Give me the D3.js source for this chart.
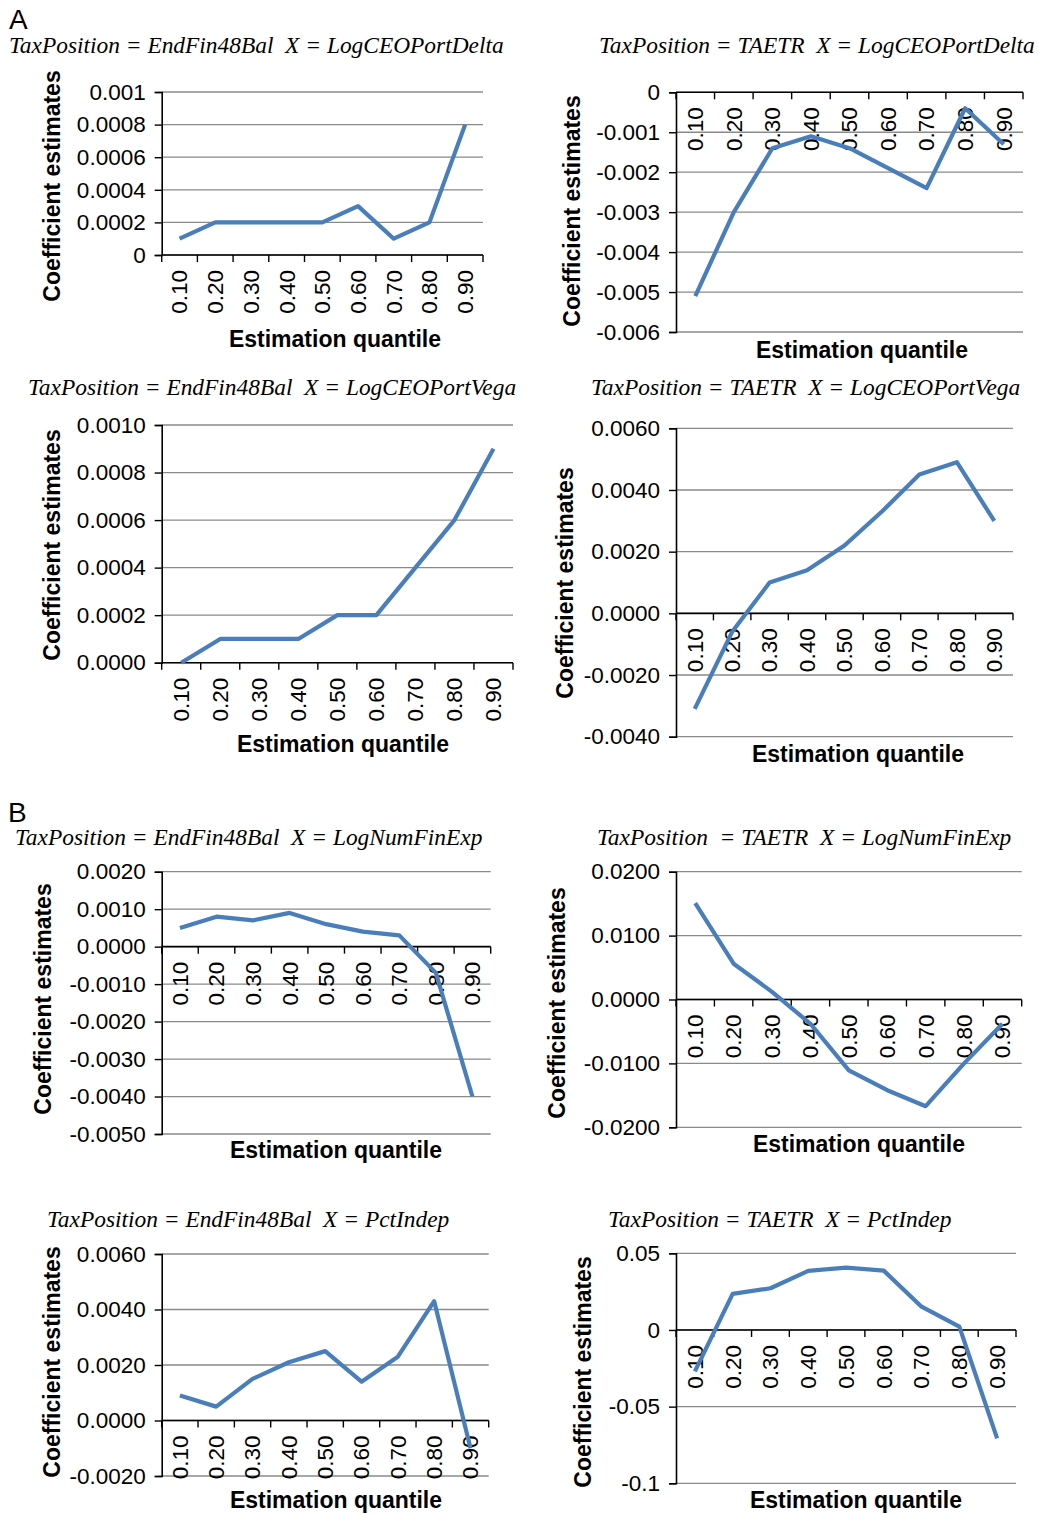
<!DOCTYPE html>
<html>
<head>
<meta charset="utf-8">
<script src="https://cdn.jsdelivr.net/npm/d3@7"></script>
<style>
  body { margin: 0; background: #fff; }
  svg { display: block; }
  .tick-label { font-family: "Liberation Sans", Arial, sans-serif; font-size: 22.5px; fill: #000; }
  .axis-title { font-family: "Liberation Sans", Arial, sans-serif; font-size: 23px; font-weight: bold; fill: #000; }
  .panel-title { font-family: "Liberation Serif", "Times New Roman", serif; font-style: italic; font-size: 23.4px; fill: #000; white-space: pre; }
  .letter { font-family: "Liberation Sans", Arial, sans-serif; font-size: 28px; fill: #000; }
</style>
</head>
<body>
<svg id="chart" width="1039" height="1514"></svg>
<script>
// Categories (estimation quantiles)
const quantiles = ["0.10", "0.20", "0.30", "0.40", "0.50", "0.60", "0.70", "0.80", "0.90"];

// Coefficient estimates
const fin48Delta = [0.0001, 0.0002, 0.0002, 0.0002, 0.0002, 0.0003, 0.0001, 0.0002, 0.0008];
const taetrDelta = [-0.0051, -0.0030, -0.0014, -0.0011, -0.0014, -0.0019, -0.0024, -0.0004, -0.0013];
const fin48Vega = [0.0000, 0.0001, 0.0001, 0.0001, 0.0002, 0.0002, 0.0004, 0.0006, 0.0009];
const taetrVega = [-0.0031, -0.0006, 0.0010, 0.0014, 0.0022, 0.0033, 0.0045, 0.0049, 0.0030];
const fin48FinExp = [0.0005, 0.0008, 0.0007, 0.0009, 0.0006, 0.0004, 0.0003, -0.0007, -0.0040];
const taetrFinExp = [0.0151, 0.0056, 0.0012, -0.0038, -0.0111, -0.0142, -0.0167, -0.0100, -0.0038];
const fin48Indep = [0.0009, 0.0005, 0.0015, 0.0021, 0.0025, 0.0014, 0.0023, 0.0043, -0.0010];
const taetrIndep = [-0.027, 0.0235, 0.0272, 0.0385, 0.0407, 0.0387, 0.0152, 0.0022, -0.0707];

// Y tick values and their labels
const ticksFin48Delta = [0, 0.0002, 0.0004, 0.0006, 0.0008, 0.001];
const labelsFin48Delta = ["0", "0.0002", "0.0004", "0.0006", "0.0008", "0.001"];
const ticksTaetrDelta = [-0.006, -0.005, -0.004, -0.003, -0.002, -0.001, 0];
const labelsTaetrDelta = ["-0.006", "-0.005", "-0.004", "-0.003", "-0.002", "-0.001", "0"];
const ticksFin48Vega = [0, 0.0002, 0.0004, 0.0006, 0.0008, 0.001];
const labelsFin48Vega = ["0.0000", "0.0002", "0.0004", "0.0006", "0.0008", "0.0010"];
const ticksTaetrVega = [-0.004, -0.002, 0, 0.002, 0.004, 0.006];
const labelsTaetrVega = ["-0.0040", "-0.0020", "0.0000", "0.0020", "0.0040", "0.0060"];
const ticksFin48FinExp = [-0.005, -0.004, -0.003, -0.002, -0.001, 0, 0.001, 0.002];
const labelsFin48FinExp = ["-0.0050", "-0.0040", "-0.0030", "-0.0020", "-0.0010", "0.0000", "0.0010", "0.0020"];
const ticksTaetrFinExp = [-0.02, -0.01, 0, 0.01, 0.02];
const labelsTaetrFinExp = ["-0.0200", "-0.0100", "0.0000", "0.0100", "0.0200"];
const ticksFin48Indep = [-0.002, 0, 0.002, 0.004, 0.006];
const labelsFin48Indep = ["-0.0020", "0.0000", "0.0020", "0.0040", "0.0060"];
const ticksTaetrIndep = [-0.1, -0.05, 0, 0.05];
const labelsTaetrIndep = ["-0.1", "-0.05", "0", "0.05"];

// Panel titles
const titles = [
    "TaxPosition = EndFin48Bal  X = LogCEOPortDelta",
    "TaxPosition = TAETR  X = LogCEOPortDelta",
    "TaxPosition = EndFin48Bal  X = LogCEOPortVega",
    "TaxPosition = TAETR  X = LogCEOPortVega",
    "TaxPosition = EndFin48Bal  X = LogNumFinExp",
    "TaxPosition  = TAETR  X = LogNumFinExp",
    "TaxPosition = EndFin48Bal  X = PctIndep",
    "TaxPosition = TAETR  X = PctIndep"
];

const lineColor = "#4a7ebb";

// Layout of each panel: plot box, title spot, axis title spots
const panels = [
    { values: fin48Delta, ticks: ticksFin48Delta, labels: labelsFin48Delta, box: [161.7, 483, 92, 255], title: [9, 53], yTitle: [52, 186], xTitle: [335, 346.5] },
    { values: taetrDelta, ticks: ticksTaetrDelta, labels: labelsTaetrDelta, box: [676, 1023, 92.3, 332], title: [599, 53], yTitle: [572, 211], xTitle: [862, 358] },
    { values: fin48Vega, ticks: ticksFin48Vega, labels: labelsFin48Vega, box: [161.7, 513, 425, 662.7], title: [28, 395], yTitle: [52, 545], xTitle: [343, 751.5] },
    { values: taetrVega, ticks: ticksTaetrVega, labels: labelsTaetrVega, box: [676, 1013, 428.3, 736.7], title: [591, 395], yTitle: [565, 583], xTitle: [858, 761.5] },
    { values: fin48FinExp, ticks: ticksFin48FinExp, labels: labelsFin48FinExp, box: [161.7, 490.7, 871.7, 1134], title: [15, 845], yTitle: [43, 999], xTitle: [336, 1158] },
    { values: taetrFinExp, ticks: ticksTaetrFinExp, labels: labelsTaetrFinExp, box: [676, 1021.7, 871.7, 1127.3], title: [597, 845], yTitle: [557, 1003], xTitle: [859, 1151.5] },
    { values: fin48Indep, ticks: ticksFin48Indep, labels: labelsFin48Indep, box: [161.7, 488.7, 1254, 1476], title: [47, 1227], yTitle: [52, 1362], xTitle: [336, 1508] },
    { values: taetrIndep, ticks: ticksTaetrIndep, labels: labelsTaetrIndep, box: [676, 1016, 1253.3, 1483.3], title: [608, 1227], yTitle: [583, 1372], xTitle: [856, 1508] }
];

const svg = d3.select("#chart");
svg.append("rect").attr("width", 1039).attr("height", 1514).attr("fill", "#fff");

// Section letters
svg.append("text").attr("class", "letter").attr("x", 9).attr("y", 29).text("A");
svg.append("text").attr("class", "letter").attr("x", 8).attr("y", 822).text("B");

panels.forEach((p, k) => {
    const [left, right, top, bottom] = p.box;
    const g = svg.append("g");

    const x = d3.scaleBand().domain(quantiles).range([left, right]).padding(0);
    const y = d3.scaleLinear().domain(d3.extent(p.ticks)).range([bottom, top]);

    // Gridlines
    g.selectAll(".grid")
        .data(p.ticks)
        .enter()
        .append("line")
        .attr("x1", left)
        .attr("x2", right)
        .attr("y1", d => y(d))
        .attr("y2", d => y(d))
        .attr("stroke", "#8a8a8a")
        .attr("stroke-width", 1.3);

    // Y axis
    const yAxis = g.append("g")
        .attr("transform", `translate(${left},0)`)
        .call(d3.axisLeft(y).tickValues(p.ticks).tickSize(7).tickPadding(9)
            .tickFormat((d, i) => p.labels[i]));
    yAxis.select(".domain").attr("stroke", "#000").attr("stroke-width", 1.6);
    yAxis.selectAll(".tick line").attr("stroke", "#000").attr("stroke-width", 1.4);
    yAxis.selectAll(".tick text")
        .attr("class", "tick-label")
        .attr("font-family", null).attr("font-size", null);
    yAxis.attr("font-family", null).attr("font-size", null);

    // Category axis sits on the zero line
    const y0 = y(0);
    g.append("line")
        .attr("x1", left).attr("x2", right)
        .attr("y1", y0).attr("y2", y0)
        .attr("stroke", "#000").attr("stroke-width", 1.6);

    // Tick marks at the category boundaries
    const bounds = d3.range(quantiles.length + 1).map(i => left + i * x.step());
    g.selectAll(".xtick")
        .data(bounds)
        .enter()
        .append("line")
        .attr("x1", d => d).attr("x2", d => d)
        .attr("y1", y0).attr("y2", y0 + 7)
        .attr("stroke", "#000").attr("stroke-width", 1.4);

    // Rotated category labels
    g.selectAll(".xlabel")
        .data(quantiles)
        .enter()
        .append("text")
        .attr("class", "tick-label")
        .attr("text-anchor", "end")
        .attr("dy", "0.35em")
        .attr("transform", d => `translate(${x(d) + x.bandwidth() / 2},${y0 + 15}) rotate(-90)`)
        .text(d => d);

    // Series line
    const line = d3.line()
        .x((d, i) => x(quantiles[i]) + x.bandwidth() / 2)
        .y(d => y(d));

    g.append("path")
        .datum(p.values)
        .attr("d", line)
        .attr("fill", "none")
        .attr("stroke", lineColor)
        .attr("stroke-width", 4.2)
        .attr("stroke-linejoin", "round");

    // Titles
    g.append("text")
        .attr("class", "panel-title")
        .attr("x", p.title[0])
        .attr("y", p.title[1])
        .text(titles[k]);

    g.append("text")
        .attr("class", "axis-title")
        .attr("text-anchor", "middle")
        .attr("dy", "0.35em")
        .attr("transform", `translate(${p.yTitle[0]},${p.yTitle[1]}) rotate(-90)`)
        .text("Coefficient estimates");

    g.append("text")
        .attr("class", "axis-title")
        .attr("text-anchor", "middle")
        .attr("x", p.xTitle[0])
        .attr("y", p.xTitle[1])
        .text("Estimation quantile");
});
</script>
</body>
</html>
